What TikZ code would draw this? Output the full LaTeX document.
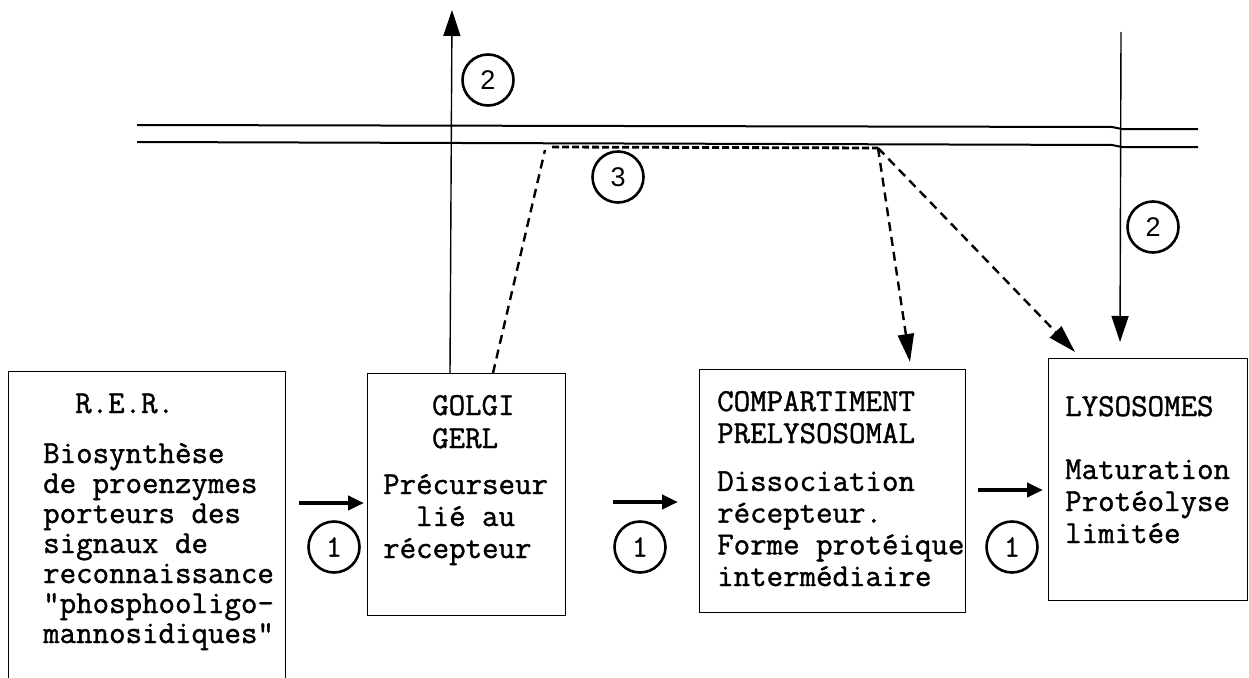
\documentclass[tikz,border=0pt]{standalone}
\usepackage{fontspec}
\setmonofont[FakeBold=1.2]{Latin Modern Mono}
\newfontfamily\numsans{Liberation Sans}
\usetikzlibrary{arrows.meta,calc}
\begin{document}
\begin{tikzpicture}[x=1pt,y=-1pt,
  box/.style={draw,line width=1.4pt,inner sep=0,anchor=north west},
  txt/.style={align=left,anchor=base west,inner sep=0},
  numc/.style={draw,circle,line width=2.6pt,minimum size=51pt,inner sep=0},
  fat/.style={line width=4.5pt,-{Triangle[length=16pt,width=14pt]}},
  thinarr/.style={line width=1.4pt,-{Triangle[length=26pt,width=17pt]}},
  dsh/.style={line width=2.4pt,dash pattern=on 9pt off 6pt},
  dsharr/.style={dsh,-{Triangle[length=28pt,width=16pt]}},
  dotdsh/.style={line width=2.8pt,dash pattern=on 7pt off 3pt},
  memb/.style={line width=2pt}]
\useasboundingbox (0,0) rectangle (1249,677);
% boxes
\node[box,minimum width=277pt,minimum height=330pt] (rer) at (8,371) {};
\node[box,minimum width=198pt,minimum height=242pt] (golgi) at (367,373) {};
\node[box,minimum width=266pt,minimum height=243pt] (comp) at (699,369) {};
\node[box,minimum width=199pt,minimum height=242pt] (lys) at (1048,358) {};
% texts (base anchor = baseline of the last line)
\node[txt,font=\ttfamily\fontsize{32}{30}\selectfont] (rert) at (75,413) {R.E.R.};
\node[txt,font=\ttfamily\fontsize{32}{30}\selectfont] (rerb) at (43,643)
  {Biosynthèse\\de proenzymes\\porteurs des\\signaux de\\reconnaissance\\"phosphooligo-\\mannosidiques"};
\node[txt,font=\ttfamily\fontsize{32}{33}\selectfont] (golgit) at (432,448) {GOLGI\\GERL};
\node[txt,font=\ttfamily\fontsize{32}{32}\selectfont] (golgib) at (383,558)
  {Précurseur\\\phantom{xx}lié au\\récepteur};
\node[txt,font=\ttfamily\fontsize{32}{32}\selectfont] (compt) at (717,443) {COMPARTIMENT\\PRELYSOSOMAL};
\node[txt,font=\ttfamily\fontsize{32}{31.7}\selectfont] (compb) at (717,586)
  {Dissociation\\récepteur.\\Forme protéique\\intermédiaire};
\node[txt,font=\ttfamily\fontsize{32}{32}\selectfont] (lyst) at (1065,416) {LYSOSOMES};
\node[txt,font=\ttfamily\fontsize{32}{32}\selectfont] (lysb) at (1065,543)
  {Maturation\\Protéolyse\\limitée};
% membrane
\coordinate (ma1) at (137,125); \coordinate (ma2) at (1112,127); \coordinate (ma3) at (1122,129); \coordinate (ma4) at (1198,129);
\coordinate (mb1) at (137,142); \coordinate (mb2) at (1112,145); \coordinate (mb3) at (1122,147); \coordinate (mb4) at (1198,147);
\draw[memb] (ma1) -- (ma2) -- (ma3) -- (ma4);
\draw[memb] (mb1) -- (mb2) -- (mb3) -- (mb4);
% thick arrows
\draw[fat] ($(rer.north east)+(13,132)$) -- ($(golgi.north west)+(-3,130)$);
\draw[fat] ($(golgi.north east)+(47,129)$) -- ($(comp.north west)+(-21,133)$);
\draw[fat] ($(comp.north east)+(12,121)$) -- ($(lys.north west)+(-5,132)$);
% circles
\node[numc] (c1a) at (334,547) {\ttfamily\fontsize{31}{31}\selectfont 1};
\node[numc] (c1b) at (640,547) {\ttfamily\fontsize{31}{31}\selectfont 1};
\node[numc] (c1c) at (1012,547) {\ttfamily\fontsize{31}{31}\selectfont 1};
\node[numc] (c2a) at (488,80) {\numsans\fontsize{27}{27}\selectfont 2};
\node[numc] (c2b) at (1153,227) {\numsans\fontsize{27}{27}\selectfont 2};
\node[numc] (c3) at (618,177) {\numsans\fontsize{27}{27}\selectfont 3};
% vertical arrows
\coordinate (top1) at (452,10);
\coordinate (top2) at (1121,32);
\draw[thinarr] ($(golgi.north west)+(83,0)$) -- (top1);
\draw[thinarr] (top2) -- ($(lys.north west)+(72,-16)$);
% dashed paths
\coordinate (d1) at (545,150);
\coordinate (d2) at (552,147);
\coordinate (d3) at (878,148);
\draw[dsh] ($(golgi.north west)+(126,0)$) -- (d1);
\draw[dotdsh] (d2) -- (d3);
\draw[dsharr] (d3) -- ($(comp.north west)+(211,-7)$);
\draw[dsharr] (d3) -- ($(lys.north west)+(27,-6)$);
\end{tikzpicture}
\end{document}
